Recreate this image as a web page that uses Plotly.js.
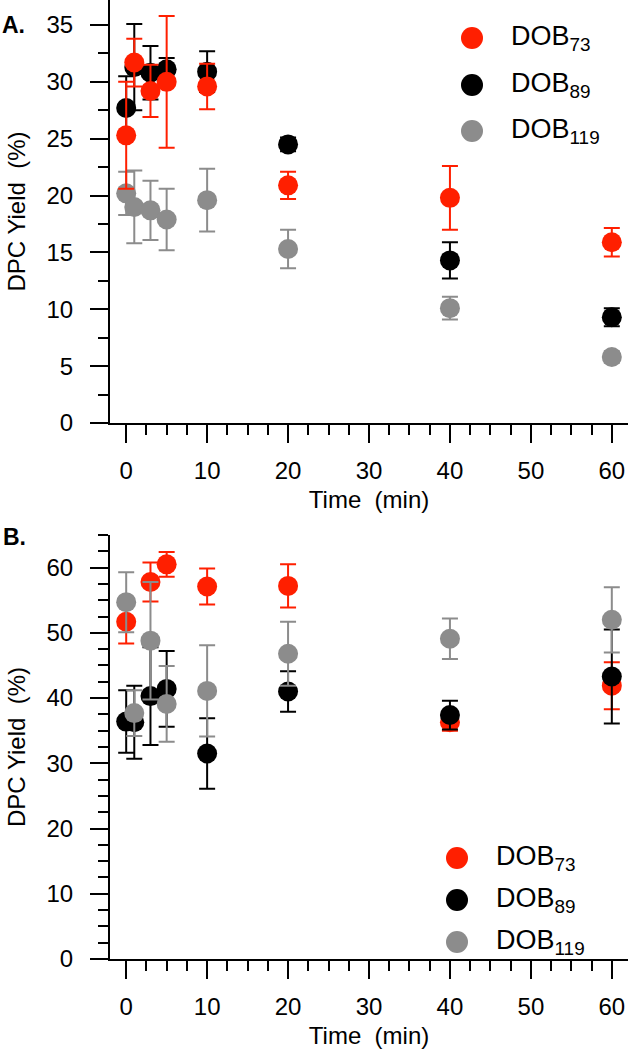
<!DOCTYPE html>
<html><head><meta charset="utf-8">
<script src="https://cdn.plot.ly/plotly-3.0.1.min.js"></script>
<style>body{margin:0;background:#fff}#c{width:631px;height:1050px}</style>
</head><body><div id="c"></div>
<script>
const seriesNames = ['DOB<sub>73</sub>', 'DOB<sub>89</sub>', 'DOB<sub>119</sub>'];
const colors = ['#ff1f00', '#000000', '#8c8c8c'];
const times = [0, 1, 3, 5, 10, 20, 40, 60];

// Panel A
const A73 = [25.3, 31.7, 29.2, 30.0, 29.6, 20.9, 19.8, 15.9];
const A73err = [4.7, 2.1, 2.3, 5.8, 2.0, 1.2, 2.8, 1.25];
const A89 = [27.7, 31.3, 30.8, 31.1, 30.9, 24.5, 14.3, 9.3];
const A89err = [2.8, 3.8, 2.35, 1.0, 1.8, 0.6, 1.6, 0.8];
const A119 = [20.2, 19.0, 18.7, 17.9, 19.6, 15.3, 10.1, 5.8];
const A119err = [1.9, 3.2, 2.6, 2.7, 2.75, 1.7, 1.0, 0.5];

// Panel B
const B73 = [51.7, null, 57.8, 60.5, 57.1, 57.2, 36.3, 41.9];
const B73err = [3.35, null, 3.0, 1.9, 2.75, 3.3, 1.3, 3.6];
const B89 = [36.4, 36.3, 40.3, 41.4, 31.5, 41.0, 37.4, 43.3];
const B89err = [4.8, 5.6, 7.5, 5.8, 5.4, 3.1, 2.2, 7.2];
const B119 = [54.7, 37.7, 48.8, 39.1, 41.1, 46.8, 49.1, 52.0];
const B119err = [4.6, 3.5, 9.0, 5.8, 7.0, 4.9, 3.1, 5.0];

const FONT = '"Liberation Sans", Arial, sans-serif';

function tr(y, err, idx, xa, ya) {
  return {
    x: times, y: y, type: 'scatter', mode: 'markers', xaxis: xa, yaxis: ya,
    showlegend: false, cliponaxis: false,
    marker: {size: 20, color: colors[idx]},
    error_y: {type: 'data', array: err, visible: true, color: colors[idx], thickness: 2, width: 8}
  };
}

const data = [
  tr(A119, A119err, 2, 'x', 'y'),
  tr(A89, A89err, 1, 'x', 'y'),
  tr(A73, A73err, 0, 'x', 'y'),
  tr(B73, B73err, 0, 'x2', 'y2'),
  tr(B89, B89err, 1, 'x2', 'y2'),
  tr(B119, B119err, 2, 'x2', 'y2')
];

// pixel -> paper helpers (plot area: x 110..628, y 0..959)
const L = 110, W = 518, H = 959;
const px = p => (p - L) / W;
const py = p => (H - p) / H;

function xax(anchor) {
  return {
    anchor: anchor, domain: [0, 1], range: [-2, 62], dtick: 10, tick0: 0,
    showline: true, linewidth: 2, linecolor: '#000', mirror: false,
    ticks: 'outside', ticklen: 18, tickwidth: 2, tickcolor: '#000',
    minor: {dtick: 2.5, ticks: 'outside', ticklen: 10, tickwidth: 2, tickcolor: '#000', showgrid: false},
    showgrid: false, zeroline: false,
    tickfont: {family: FONT, size: 24, color: '#000'},
    ticklabelstandoff: 7,
    title: {text: 'Time  (min)', font: {family: FONT, size: 24, color: '#000'}, standoff: 8}
  };
}
function yax(anchor, domain, range, dtick) {
  return {
    anchor: anchor, domain: domain, range: range, dtick: dtick, tick0: 0,
    showline: true, linewidth: 2, linecolor: '#000',
    ticks: 'outside', ticklen: 18, tickwidth: 2, tickcolor: '#000',
    minor: {dtick: 2.5, ticks: 'outside', ticklen: 10, tickwidth: 2, tickcolor: '#000', showgrid: false},
    showgrid: false, zeroline: false,
    tickfont: {family: FONT, size: 24, color: '#000'},
    ticklabelstandoff: 12,
    title: {text: 'DPC Yield  (%)', font: {family: FONT, size: 24, color: '#000'}, standoff: 14}
  };
}

const shapes = [], annotations = [];
function legend(mx, rows, tx) {
  rows.forEach((ry, i) => {
    shapes.push({type: 'circle', xref: 'paper', yref: 'paper', xsizemode: 'pixel', ysizemode: 'pixel',
      xanchor: px(mx), yanchor: py(ry), x0: -11, x1: 11, y0: -11, y1: 11,
      fillcolor: colors[i], line: {width: 0}});
    annotations.push({xref: 'paper', yref: 'paper', x: px(tx), y: py(ry), xanchor: 'left', yanchor: 'middle',
      text: seriesNames[i], showarrow: false, font: {family: FONT, size: 27, color: '#000'}});
  });
}
legend(472, [38, 85, 131], 509);
legend(457, [858, 900, 942], 494);

annotations.push({xref: 'paper', yref: 'paper', x: px(0), y: py(25), xanchor: 'left', yanchor: 'middle',
  text: '<b>A.</b>', showarrow: false, font: {family: FONT, size: 23, color: '#000'}});
annotations.push({xref: 'paper', yref: 'paper', x: px(1), y: py(537), xanchor: 'left', yanchor: 'middle',
  text: '<b>B.</b>', showarrow: false, font: {family: FONT, size: 23, color: '#000'}});

const layout = {
  width: 631, height: 1050,
  margin: {l: L, r: 3, t: 0, b: 91},
  paper_bgcolor: '#fff', plot_bgcolor: '#fff',
  showlegend: false,
  xaxis: xax('y'),
  yaxis: yax('x', [py(423), 1], [0, 37.2], 5),
  xaxis2: xax('y2'),
  yaxis2: yax('x2', [0, py(535)], [0, 65], 10),
  shapes: shapes, annotations: annotations
};

Plotly.newPlot('c', data, layout, {staticPlot: true, displayModeBar: false});
</script>
</body></html>
